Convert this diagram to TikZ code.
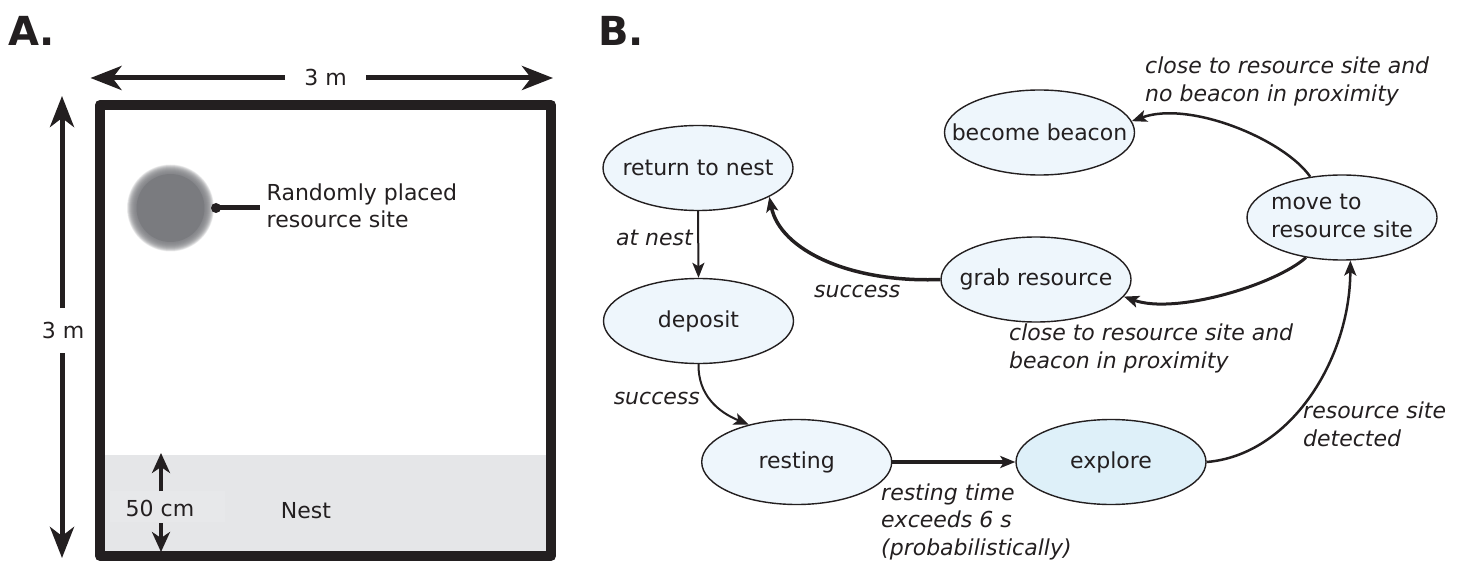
\documentclass[tikz,border=0pt]{standalone}
\usepackage{fontspec}
\setmainfont{DejaVu Sans}
\usetikzlibrary{shapes.geometric,arrows.meta}
\definecolor{ink}{HTML}{231F20}
\definecolor{nestgray}{HTML}{E5E6E8}
\definecolor{labelbg}{HTML}{E7E8EA}
\definecolor{discgray}{HTML}{7A7B7F}
\definecolor{stfill}{HTML}{EEF6FC}
\definecolor{expfill}{HTML}{DEF0F9}
\newcommand{\afont}{\fontsize{22}{27}\selectfont}
\newcommand{\bfontsz}{\fontsize{22}{28}\selectfont}
\newcommand{\zw}[1]{\makebox[0pt]{#1}}
\tikzset{
  bigtip/.style={-{Stealth[length=31pt,width=24pt,inset=9pt]}},
  midtip/.style={-{Stealth[length=20pt,width=18pt,inset=6pt]}},
  smalltip/.style={-{Stealth[length=15pt,width=12pt,inset=3.5pt]}},
  state/.style={ellipse, draw=ink, line width=1.4pt, fill=stfill, inner sep=0pt,
    minimum width=190pt, minimum height=85pt, font=\bfontsz, text=ink},
  lbl/.style={font=\bfontsz\itshape, text=ink, inner sep=0pt, align=left},
  albl/.style={font=\afont, text=ink, inner sep=0pt},
  panel/.style={font=\fontsize{40}{42}\selectfont\bfseries, text=ink, inner sep=0pt},
  conn/.style={draw=ink, line width=2.5pt, smalltip},
  ring/.style={fill=discgray, fill opacity=0.12},
}
\begin{document}
\begin{tikzpicture}[x=1pt,y=-1pt]
\useasboundingbox (0,0) rectangle (1461,561);
% ---------- Panel A ----------
\node[panel, anchor=base west] (labA) at (8,46) {A.};
\fill[nestgray] (100,455) rectangle (551,556);
\fill[labelbg] (110,491) rectangle (225,522);
\draw[ink, line width=10pt, line join=round] (100,105) rectangle (551,556);
% width arrow
\node[albl, anchor=base] (wlab) at (325.5,86) {3 m};
\coordinate (wl1) at (285,78); \coordinate (wl2) at (90.5,78);
\coordinate (wr1) at (366,78); \coordinate (wr2) at (553,78);
\draw[ink, line width=5pt, bigtip] (wl1) -- (wl2);
\draw[ink, line width=5pt, bigtip] (wr1) -- (wr2);
% height arrow
\node[albl, anchor=base] (hlab) at (63,338) {3 m};
\coordinate (hu1) at (62,308); \coordinate (hu2) at (62,96);
\coordinate (hd1) at (62,353); \coordinate (hd2) at (62,558);
\draw[ink, line width=5pt, bigtip] (hu1) -- (hu2);
\draw[ink, line width=5pt, bigtip] (hd1) -- (hd2);
% nest arrows
\node[albl, anchor=base] (nlab) at (160,516) {50 cm};
\coordinate (nu1) at (161,491); \coordinate (nu2) at (161,453);
\coordinate (nd1) at (161,523); \coordinate (nd2) at (161,552);
\draw[ink, line width=4pt, midtip] (nu1) -- (nu2);
\draw[ink, line width=4pt, midtip] (nd1) -- (nd2);
\node[albl, anchor=base] (nest) at (306,518) {Nest};
% resource site (blurred disc)
\coordinate (disc) at (170.5,208);
\foreach \r in {34.5,35,...,43.5} { \path[ring] (disc) circle (\r); }
\fill[discgray] (disc) circle (34);
\fill[ink] (216,208) circle (5);
\coordinate (dot) at (216,208);
\coordinate (ptr) at (260,208);
\draw[ink, line width=5pt] (dot) -- (ptr);
\node[albl, anchor=north west, align=left] (rlab) at (266.5,183.5) {Randomly placed\\resource site};
% ---------- Panel B ----------
\node[panel, anchor=base west] (labB) at (598,46) {B.};
\node[state] (ret) at (698,168) {\zw{return to nest}};
\node[state] (dep) at (698.5,321) {\zw{deposit}};
\node[state] (rest) at (796.7,462) {\zw{resting}};
\node[state, fill=expfill] (expl) at (1111,462) {\zw{explore}};
\node[state] (grab) at (1036,279.5) {\zw{grab resource}};
\node[state] (bea) at (1039.5,132.5) {\zw{become beacon}};
\node[state] (move) at (1342,217.5) {\zw{\begin{tabular}{@{}l@{}}move to\\resource site\end{tabular}}};
% connectors
\draw[conn, line width=2pt] (ret.south) -- (dep.north);
\draw[conn, line width=2pt] (dep.south) .. controls (698,395) and (718,412) .. (rest.142);
\draw[conn, line width=3.5pt] (rest.east) -- (expl.west);
\draw[conn] (expl.east) .. controls (1290,455) and (1350,360) .. (move.-79);
\draw[conn, line width=3pt] (move.-132) .. controls (1275,285) and (1175,315) .. (grab.-11);
\draw[conn] (move.128) .. controls (1285,140) and (1190,100) .. (bea.7);
\draw[conn, line width=3.5pt] (grab.west) .. controls (850,283) and (780,250) .. (ret.-22.5);
% labels
\node[lbl, anchor=base east] (l1) at (693,246) {at nest};
\node[lbl, anchor=base east] (l2) at (700,404) {success};
\node[lbl, anchor=base west] (l3) at (814,298) {success};
\node[lbl, anchor=north west] (l4) at (1145,56.3) {close to resource site and\\no beacon in proximity};
\node[lbl, anchor=north west] (l5) at (1009,323.3) {close to resource site and\\beacon in proximity};
\node[lbl, anchor=north west] (l6) at (1303,401.3) {resource site\\detected};
\node[lbl, anchor=north west, font=\fontsize{22}{27.5}\selectfont\itshape] (l7) at (881,483.3) {resting time\\exceeds 6 s\\(probabilistically)};
\end{tikzpicture}
\end{document}
